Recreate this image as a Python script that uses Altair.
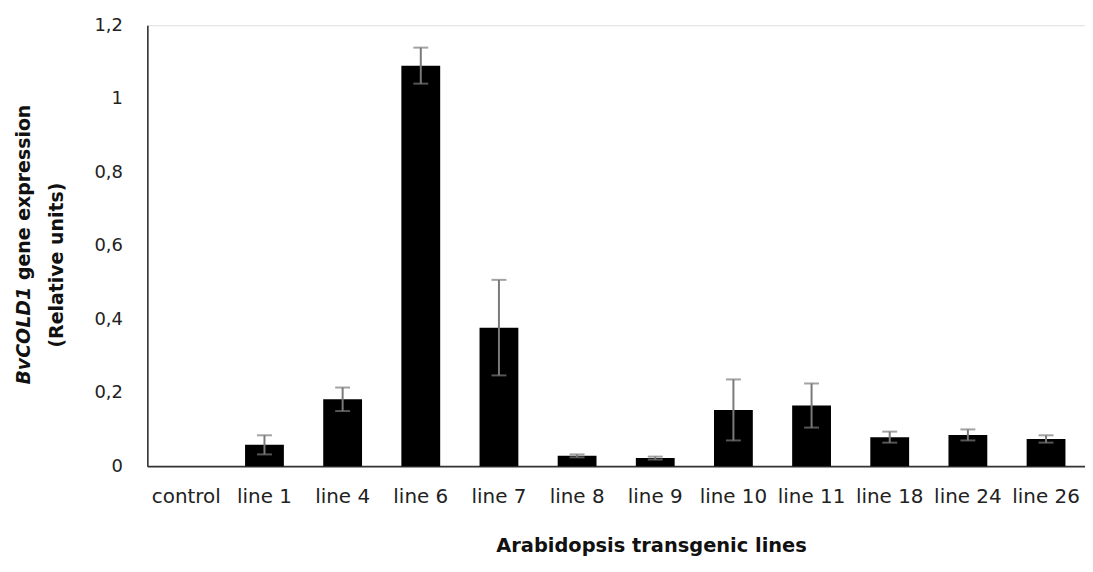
import altair as alt
import pandas as pd

categories = ["control", "line 1", "line 4", "line 6", "line 7", "line 8", "line 9",
              "line 10", "line 11", "line 18", "line 24", "line 26"]
means = [0.0, 0.058, 0.182, 1.09, 0.377, 0.028, 0.022, 0.153, 0.165, 0.079, 0.085, 0.074]
errors = [0.0, 0.026, 0.032, 0.049, 0.13, 0.004, 0.004, 0.083, 0.06, 0.015, 0.015, 0.01]
y_ticks = [0, 0.2, 0.4, 0.6, 0.8, 1.0, 1.2]
x_title = "Arabidopsis transgenic lines"
y_title_italic = ["BvCOLD1"]
y_title_rest = ["gene expression"]
y_title_line2 = ["(Relative units)"]

FONT = "DejaVu Sans"

df = pd.DataFrame({"cat": categories, "mean": means, "err": errors})
df["lo"] = df["mean"] - df["err"]
df["hi"] = df["mean"] + df["err"]
df_err = df[df["err"] > 0]

xenc = alt.X("cat:N", sort=categories, title=x_title,
             scale=alt.Scale(paddingInner=0.503, paddingOuter=0.25),
             axis=alt.Axis(labelAngle=0, ticks=False, labelPadding=21, labelFontSize=20,
                           labelFont=FONT, labelColor="#222", titleFont=FONT,
                           titleFontSize=19.5, titleFontWeight="bold",
                           titleX=506, titleY=86, titleBaseline="alphabetic",
                           titleAlign="center", titleAnchor="start",
                           titleColor="#111", domainColor="#333", domainWidth=1.6))

yscale = alt.Scale(domain=[0, 1.2], nice=False)
yaxis = alt.Axis(values=y_ticks, grid=False, ticks=False, title=None,
                 labelExpr="datum.value == 0 ? '0' : datum.value == 1 ? '1' : replace(format(datum.value, '.1f'), '.', ',')",
                 labelFont=FONT, labelFontSize=18, labelColor="#222", labelPadding=25,
                 domainColor="#333", domainWidth=1.6)

bars = alt.Chart(df).mark_bar(color="black", size=39).encode(
    x=xenc,
    y=alt.Y("mean:Q", scale=yscale, axis=yaxis),
)

rules = alt.Chart(df_err).mark_rule(color="#7a7a7a", strokeWidth=2).encode(
    x=alt.X("cat:N", sort=categories),
    y=alt.Y("lo:Q", scale=yscale),
    y2="hi:Q",
)
caps_hi = alt.Chart(df_err).mark_tick(color="#7a7a7a", thickness=2, size=15, orient="horizontal").encode(
    x=alt.X("cat:N", sort=categories),
    y=alt.Y("hi:Q", scale=yscale),
)
caps_lo = alt.Chart(df_err).mark_tick(color="#7a7a7a", thickness=2, size=15, orient="horizontal").encode(
    x=alt.X("cat:N", sort=categories),
    y=alt.Y("lo:Q", scale=yscale),
)

t1 = alt.Chart(pd.DataFrame({"t": y_title_italic})).mark_text(
    angle=270, align="left", baseline="middle", font=FONT, fontSize=19,
    fontWeight="bold", fontStyle="italic", color="#111").encode(
    x=alt.value(-124), y=alt.value(361), text="t:N")
t2 = alt.Chart(pd.DataFrame({"t": y_title_rest})).mark_text(
    angle=270, align="left", baseline="middle", font=FONT, fontSize=19,
    fontWeight="bold", color="#111").encode(
    x=alt.value(-124), y=alt.value(256), text="t:N")
t3 = alt.Chart(pd.DataFrame({"t": y_title_line2})).mark_text(
    angle=270, align="center", baseline="middle", font=FONT, fontSize=19,
    fontWeight="bold", color="#111").encode(
    x=alt.value(-91), y=alt.value(241), text="t:N")

chart = alt.layer(bars, rules, caps_hi, caps_lo, t1, t2, t3).properties(
    width=942, height=443,
    autosize=alt.AutoSizeParams(type="none"),
    padding={"left": 140, "top": 16, "right": 0, "bottom": 96},
).configure_view(stroke=None).configure(background="white")

chart.save("out.html", embed_options={"renderer": "svg", "actions": False})
